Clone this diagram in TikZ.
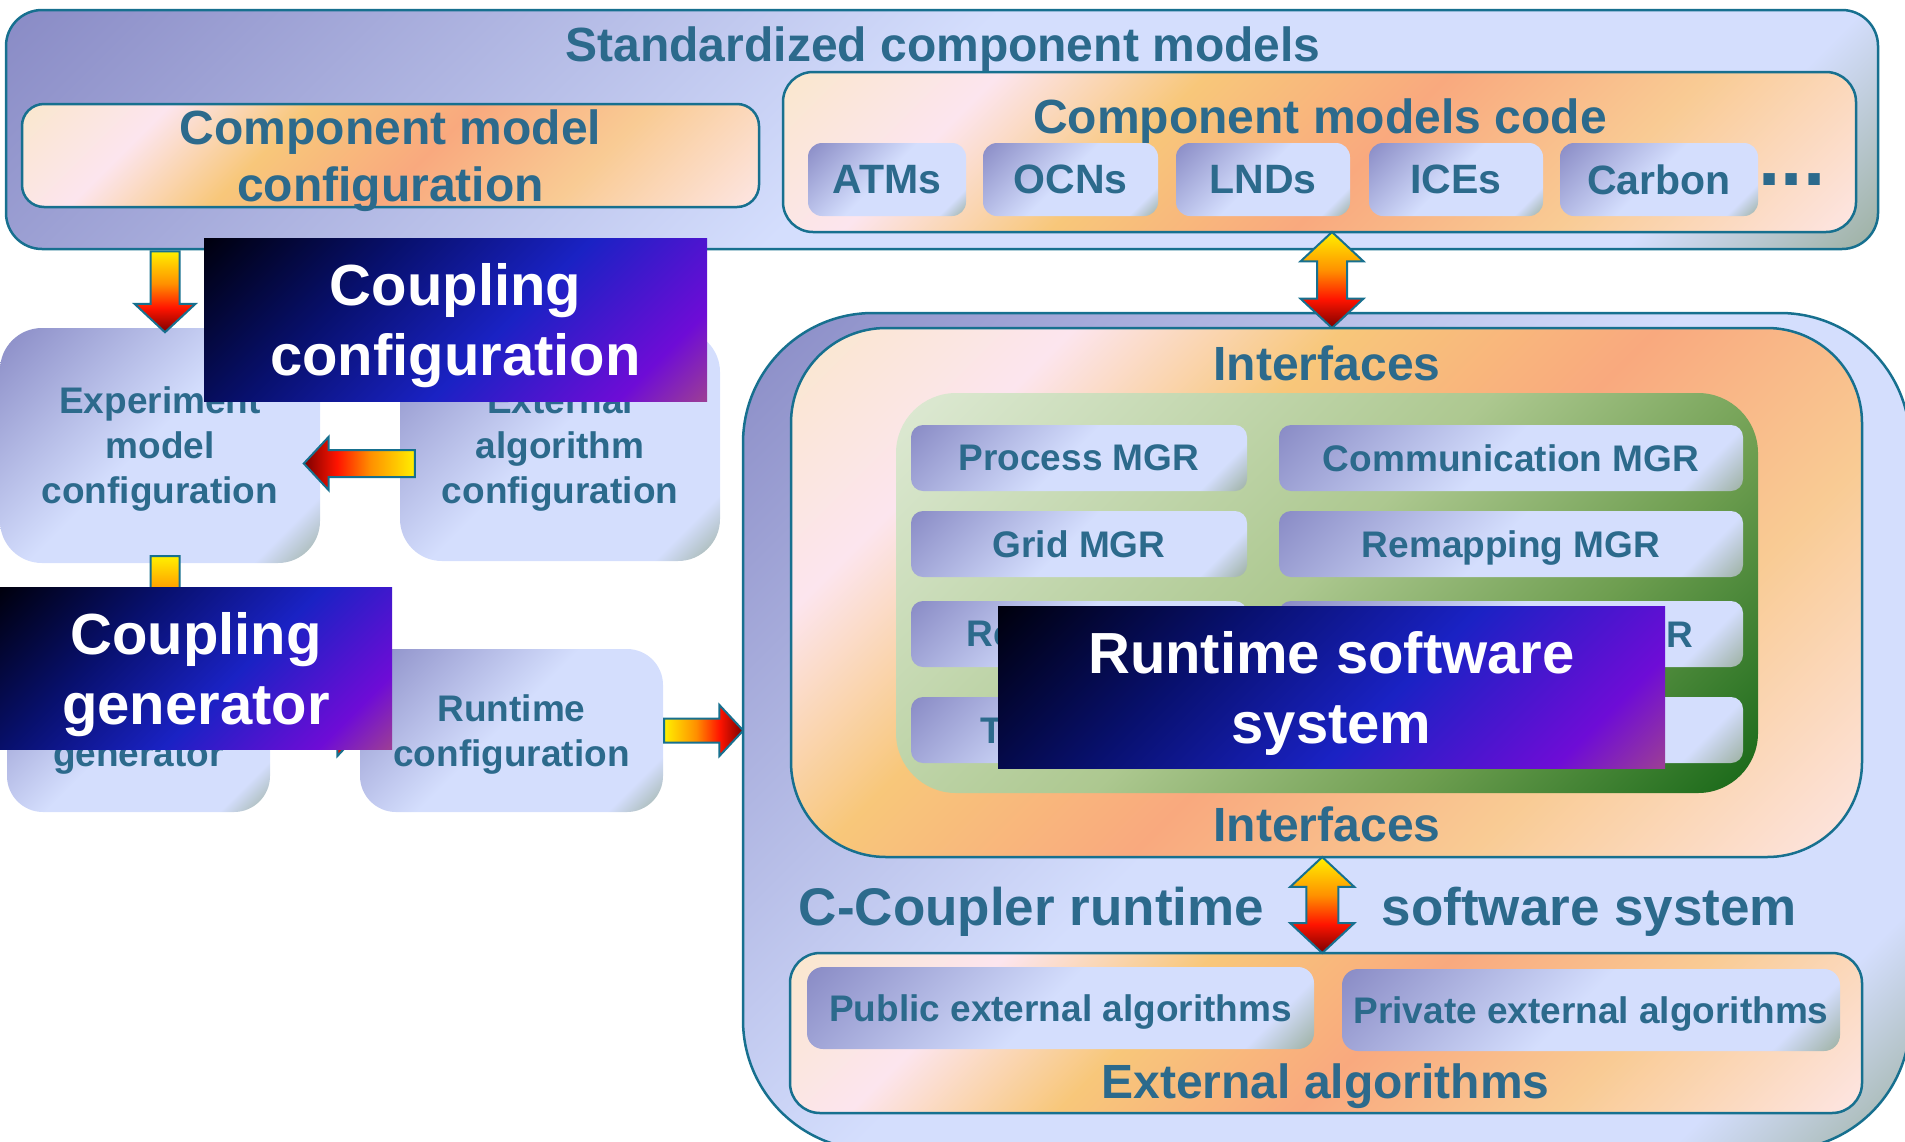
\documentclass[tikz,border=0pt]{standalone}
\usepackage{fontspec}
\setmainfont{Liberation Sans}
\usetikzlibrary{calc}
\usetikzlibrary{shapes.arrows}

\definecolor{txtblue}{HTML}{2C6A8C}
\definecolor{rim}{HTML}{17708F}
\definecolor{lav}{HTML}{8A8CC6}
\definecolor{icy}{HTML}{D4DEFD}
\definecolor{sage}{HTML}{A0B3A7}
\definecolor{cream}{HTML}{FAE7CE}
\definecolor{blush}{HTML}{FCE5EE}
\definecolor{apricot}{HTML}{F8C77A}
\definecolor{salmon}{HTML}{F9A97E}
\definecolor{peach}{HTML}{F9CB94}
\definecolor{shell}{HTML}{FDE5E2}
\definecolor{leafpale}{HTML}{DDE9D3}
\definecolor{leafmid}{HTML}{ADC890}
\definecolor{leafdeep}{HTML}{6E9E50}
\definecolor{leafdark}{HTML}{186818}
\definecolor{night}{HTML}{00000F}
\definecolor{ink}{HTML}{08106E}
\definecolor{royal}{HTML}{1A22C4}
\definecolor{grape}{HTML}{6E0CD6}
\definecolor{plum}{HTML}{9A3C98}
\definecolor{flameA}{HTML}{FFF000}
\definecolor{flameB}{HTML}{FF9000}
\definecolor{flameC}{HTML}{FF1400}
\definecolor{flameD}{HTML}{7A0000}

\pgfdeclarehorizontalshading{lavshade}{100bp}{color(0bp)=(lav); color(15bp)=(lav); color(48bp)=(icy); color(77bp)=(icy); color(85bp)=(sage); color(100bp)=(sage)}
\pgfdeclarehorizontalshading{sunshade}{100bp}{color(0bp)=(cream); color(15bp)=(cream); color(27bp)=(blush); color(39bp)=(apricot); color(53bp)=(salmon); color(68bp)=(peach); color(85bp)=(shell); color(100bp)=(shell)}
\pgfdeclarehorizontalshading{leafshade}{100bp}{color(0bp)=(leafpale); color(15bp)=(leafpale); color(48bp)=(leafmid); color(66bp)=(leafdeep); color(85bp)=(leafdark); color(100bp)=(leafdark)}
\pgfdeclarehorizontalshading{nightshade}{100bp}{color(0bp)=(night); color(15bp)=(night); color(36bp)=(ink); color(56bp)=(royal); color(76bp)=(grape); color(85bp)=(plum); color(100bp)=(plum)}
\pgfdeclarehorizontalshading{flame}{100bp}{color(0bp)=(flameA); color(25bp)=(flameA); color(45bp)=(flameB); color(60bp)=(flameC); color(75bp)=(flameD); color(100bp)=(flameD)}

\begin{document}
\begin{tikzpicture}[x=1pt,y=-1pt,
	frame/.style={draw=rim,line width=2.5pt,shading=lavshade,shading angle=-45,rounded corners=#1,inner sep=0pt},
	sunframe/.style={draw=rim,line width=2.5pt,shading=sunshade,shading angle=-45,rounded corners=#1,inner sep=0pt,
	                 text=txtblue,align=center,text depth=0pt,font=\fontsize{48}{57}\selectfont\bfseries},
	tile/.style={shading=lavshade,shading angle=-45,rounded corners=#1,inner sep=0pt,
	             text=txtblue,align=center,text depth=0pt,font=\fontsize{37}{45}\selectfont\bfseries},
	banner/.style={shading=nightshade,shading angle=-45,inner sep=0pt,
	               text=white,align=center,text depth=0pt,font=\fontsize{58}{70}\selectfont\bfseries},
	heading/.style={text=txtblue,anchor=base,font=\fontsize{48}{57}\selectfont\bfseries},
	flow/.style={draw=rim,line width=2pt,shading=flame,inner sep=#1,single arrow,single arrow tip angle=94,anchor=tail},
	twoway/.style={draw=rim,line width=2pt,shading=flame,shading angle=-90,inner sep=#1,double arrow,double arrow tip angle=94,shape border rotate=90}]

	\useasboundingbox (0,0) rectangle (1905,1141);
	\clip (0,0) rectangle (1905,1141);

	\node[frame=36pt, minimum width=1872, minimum height=239] (std) at (942,129.5) {};
	\node[heading] (stdtitle) at (943,61) {Standardized component models};
	\node[sunframe=22pt, minimum width=737, minimum height=103] (cmcfg) at (390.5,155.5) {Component model\\configuration};
	\node[sunframe=30pt, minimum width=1073, minimum height=160] (code) at (1319.5,152) {};
	\node[heading] (codetitle) at (1320,133) {Component models code};
	\foreach \id/\cx/\w/\lbl in {atm/887/158/ATMs, ocn/1070.5/175/OCNs, lnd/1263/174/LNDs, ice/1456/174/ICEs, carbon/1659/198/Carbon}
		\node[tile=14pt, minimum width=\w, minimum height=73, font=\fontsize{41}{49}\selectfont\bfseries] (\id) at (\cx,179.5) {\lbl};
	\node[text=txtblue, font=\fontsize{80}{90}\selectfont\bfseries] (more) at (1792,180) {...};

	\node[tile=42pt, minimum width=320, minimum height=235] (expcfg) at (160,445.5) {Experiment\\model\\configuration};
	\node[tile=42pt, minimum width=320, minimum height=231] (extcfg) at (560,445.5) {External\\algorithm\\configuration};
	\node[tile=36pt, minimum width=263, minimum height=163] (gen) at (138.5,730.5) {Coupling\\generator};
	\node[tile=36pt, minimum width=303, minimum height=163] (rtcfg) at (511.5,730.5) {Runtime\\configuration};

	\node[flow=13.5pt, shape border rotate=270, shading angle=-90, minimum width=59, single arrow head extend=16, minimum height=81] (down1) at ([xshift=5pt]std.south -| expcfg.north) {};
	\node[flow=12.5pt, shape border rotate=180, shading angle=180, minimum width=51, single arrow head extend=13, minimum height=111] (left1) at ([xshift=16pt,yshift=-18pt]extcfg.west) {};
	\node[flow=13.5pt, shape border rotate=270, shading angle=-90, minimum width=59, single arrow head extend=16, minimum height=94] (down2) at ([xshift=5pt,yshift=8pt]expcfg.south) {};
	\node[flow=11pt, minimum width=49, single arrow head extend=13.5, minimum height=90] (right1) at (gen.east) {};
	\node[flow=11pt, minimum width=49, single arrow head extend=13.5, minimum height=79] (right2) at (rtcfg.east) {};

	\node[frame=130pt, minimum width=1167, minimum height=837] (rts) at (1326.5,731.5) {};
	\node[sunframe=95pt, minimum width=1071, minimum height=529] (ifc) at (1326.5,592.5) {};
	\node[heading] (ifctop) at (1327,380) {Interfaces};
	\node[heading] (ifcbot) at (1327,841) {Interfaces};
	\node[shading=leafshade, shading angle=-45, rounded corners=60pt, minimum width=862, minimum height=400, inner sep=0pt] (mgrs) at (1327,593) {};
	\foreach \id/\cx/\cy/\w/\lbl in {proc/1079/458/336/Process MGR, comm/1511/458/464/Communication MGR,
	                                 grid/1079/544/336/Grid MGR, remap/1511/544/464/Remapping MGR,
	                                 rst/1079/634/336/Restart MGR, decomp/1511/634/464/Decomposition MGR,
	                                 timer/1079/730/336/Timer MGR, spare/1511/730/464/}
		\node[tile=12pt, minimum width=\w, minimum height=66] (\id) at (\cx,\cy) {\lbl};
	\node[heading, font=\fontsize{53}{60}\selectfont\bfseries] (rtname) at (1031.5,925) {C-Coupler runtime};
	\node[heading, font=\fontsize{53}{60}\selectfont\bfseries] (rtsys) at (1589.5,925) {software system};
	\node[sunframe=30pt, minimum width=1072, minimum height=160] (extalg) at (1326,1033) {};
	\node[heading] (extalgtitle) at (1325.5,1098) {External algorithms};
	\node[tile=16pt, minimum width=507, minimum height=82] (pub) at (1060.5,1008) {Public external algorithms};
	\node[tile=16pt, minimum width=498, minimum height=82] (priv) at (1591,1010) {Private external algorithms};

	\node[twoway=14pt, minimum width=61, double arrow head extend=16.5, minimum height=96] (both1) at ($(code.south)!.5!(ifc.north)+(9pt,0)$) {};
	\node[twoway=15pt, minimum width=62, double arrow head extend=16, minimum height=96] (both2) at ($(ifc.south)!.5!(extalg.north)+(-4pt,0)$) {};

	\node[banner, minimum width=503, minimum height=163] (cfgbanner) at (455.5,319.5) {Coupling\\configuration};
	\node[banner, minimum width=392, minimum height=162] (genbanner) at (196,668) {Coupling\\generator};
	\node[banner, minimum width=667, minimum height=162] (rtbanner) at (1331.5,687) {Runtime software\\system};
\end{tikzpicture}
\end{document}
